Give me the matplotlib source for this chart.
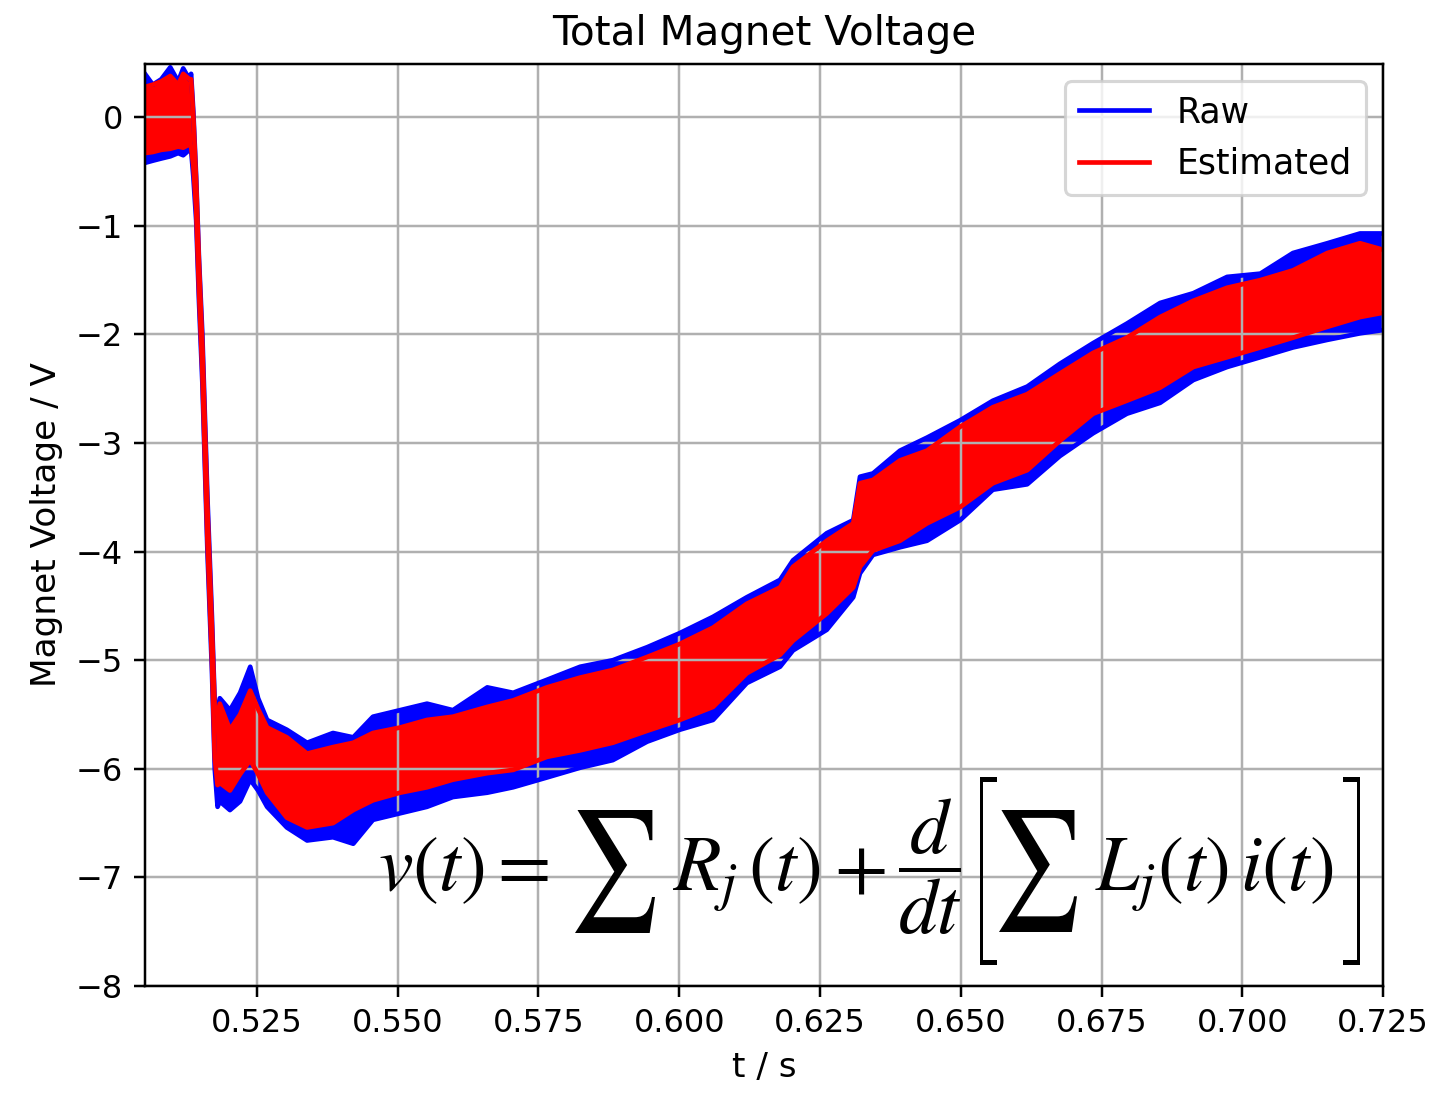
import numpy as np
import matplotlib
matplotlib.use("Agg")
import matplotlib.pyplot as plt
from matplotlib.textpath import TextPath
from matplotlib.patches import PathPatch
from matplotlib.font_manager import FontProperties
from matplotlib.transforms import Affine2D

# time samples (s) and band edges (V)
t = [0.5051, 0.5065, 0.5080, 0.5096, 0.5110, 0.5119, 0.5130, 0.5133,
     0.5137, 0.5142, 0.5147, 0.5153, 0.5162, 0.5170, 0.5175, 0.5180,
     0.5184, 0.5202, 0.5220, 0.5238, 0.5252, 0.5268, 0.5303, 0.5339,
     0.5385, 0.5421, 0.5456, 0.5504, 0.5552, 0.5598, 0.5659, 0.5705,
     0.5765, 0.5824, 0.5882, 0.5943, 0.6001, 0.6060, 0.6120, 0.6179,
     0.6202, 0.6262, 0.6309, 0.6321, 0.6344, 0.6392, 0.6440, 0.6499,
     0.6557, 0.6618, 0.6676, 0.6735, 0.6795, 0.6854, 0.6913, 0.6973,
     0.7032, 0.7090, 0.7151, 0.7209, 0.7250]

raw_hi = [0.40, 0.30, 0.35, 0.46, 0.33, 0.45, 0.35, 0.40,
          0.05, -0.55, -1.30, -2.00, -3.50, -4.60, -5.40, -5.45,
          -5.35, -5.46, -5.30, -5.06, -5.35, -5.55, -5.64, -5.76,
          -5.67, -5.71, -5.52, -5.46, -5.40, -5.46, -5.25, -5.30,
          -5.18, -5.06, -5.00, -4.88, -4.75, -4.60, -4.42, -4.26,
          -4.08, -3.83, -3.71, -3.31, -3.28, -3.07, -2.95, -2.79,
          -2.61, -2.48, -2.27, -2.08, -1.90, -1.71, -1.62, -1.47,
          -1.44, -1.25, -1.16, -1.07, -1.07]

raw_lo = [-0.42, -0.40, -0.38, -0.36, -0.33, -0.35, -0.30, -0.30,
          -0.55, -0.95, -1.70, -2.45, -4.00, -5.10, -6.00, -6.35,
          -6.30, -6.38, -6.30, -6.10, -6.20, -6.35, -6.54, -6.66,
          -6.63, -6.69, -6.47, -6.41, -6.35, -6.26, -6.22, -6.17,
          -6.08, -5.99, -5.92, -5.75, -5.64, -5.55, -5.21, -5.06,
          -4.91, -4.72, -4.42, -4.20, -4.03, -3.96, -3.90, -3.71,
          -3.43, -3.38, -3.12, -2.91, -2.73, -2.63, -2.42, -2.30,
          -2.21, -2.12, -2.05, -1.99, -1.96]

est_hi = [0.28, 0.30, 0.33, 0.38, 0.30, 0.40, 0.35, 0.35,
          0.00, -0.60, -1.35, -2.10, -3.60, -4.70, -5.45, -5.50,
          -5.40, -5.64, -5.50, -5.28, -5.45, -5.62, -5.71, -5.86,
          -5.80, -5.76, -5.67, -5.62, -5.55, -5.52, -5.43, -5.37,
          -5.25, -5.16, -5.09, -4.97, -4.85, -4.70, -4.48, -4.33,
          -4.14, -3.90, -3.74, -3.37, -3.34, -3.16, -3.07, -2.85,
          -2.67, -2.55, -2.36, -2.17, -2.03, -1.84, -1.69, -1.57,
          -1.50, -1.41, -1.25, -1.16, -1.22]

est_lo = [-0.33, -0.32, -0.30, -0.29, -0.27, -0.28, -0.25, -0.27,
          -0.45, -0.85, -1.60, -2.35, -3.90, -5.00, -5.90, -6.15,
          -6.13, -6.20, -6.05, -5.92, -6.05, -6.22, -6.45, -6.54,
          -6.50, -6.38, -6.29, -6.22, -6.17, -6.10, -6.04, -6.01,
          -5.89, -5.83, -5.76, -5.65, -5.55, -5.43, -5.12, -4.95,
          -4.82, -4.57, -4.33, -4.14, -3.99, -3.90, -3.74, -3.59,
          -3.37, -3.25, -2.98, -2.73, -2.61, -2.49, -2.30, -2.21,
          -2.12, -2.03, -1.93, -1.84, -1.80]

xticks = [0.525, 0.55, 0.575, 0.6, 0.625, 0.65, 0.675, 0.7, 0.725]
xtick_labels = ["0.525", "0.550", "0.575", "0.600", "0.625", "0.650", "0.675", "0.700", "0.725"]

plt.rcParams["mathtext.fontset"] = "stix"
W, H = 1435, 1093
fig, ax = plt.subplots(figsize=(W / 224, H / 224), dpi=224)
fig.subplots_adjust(left=0.101, right=0.9638, top=0.9414, bottom=0.0979)

ax.plot(t, raw_hi, color="blue", label="Raw")
ax.plot(t, raw_lo, color="blue")
ax.fill_between(t, raw_lo, raw_hi, color="blue", lw=0)
ax.plot(t, est_hi, color="red", label="Estimated")
ax.plot(t, est_lo, color="red")
ax.fill_between(t, est_lo, est_hi, color="red", lw=0)

ax.set_xlim(0.5051, 0.725)
ax.set_ylim(-8, 0.49)
ax.set_xticks(xticks)
ax.set_xticklabels(xtick_labels)
ax.set_yticks(range(-8, 1))
ax.tick_params(labelsize=10.3)
ax.grid(True)
ax.set_title("Total Magnet Voltage", fontsize=13)
ax.set_xlabel("t / s", fontsize=11)
ax.set_ylabel("Magnet Voltage / V", fontsize=11)
ax.legend(loc="upper right", fontsize=11.2)

# equation overlay, placed in figure pixels (top-left origin)
def put(s, px, py, size, ha="left", va="baseline"):
    fig.text(px / W, 1 - py / H, s, fontsize=size, ha=ha, va=va)

# big glyph stretched into a pixel box (x0, y0) - (x1, y1)
def glyph(s, x0, y0, x1, y1, prop=None):
    path = TextPath((0, 0), s, size=10, prop=prop)
    bb = path.get_extents()
    tr = (Affine2D().translate(-bb.x0, -bb.y0)
          .scale((x1 - x0) / bb.width, (y1 - y0) / bb.height)
          .translate(x0, H - y1))
    fig.add_artist(PathPatch(path, transform=tr, facecolor="black", lw=0))

light = FontProperties(family="Roboto", weight="light")

put(r"$v(t)=$", 378, 890, 25)
glyph(r"$\sum$", 575, 810, 655, 933)
put(r"$R_j\,(t)$", 672, 890, 25)
put(r"$+$", 860, 890, 25, ha="center")
put(r"$\dfrac{d}{dt}$", 930, 867, 25, ha="center", va="center")
glyph("[", 980, 777, 997, 965, light)
glyph(r"$\sum$", 999, 810, 1077, 932)
put(r"$L_j(t)\,i(t)$", 1095, 890, 25)
glyph("]", 1343, 777, 1360, 965, light)

fig.savefig("out.png", dpi=224)
